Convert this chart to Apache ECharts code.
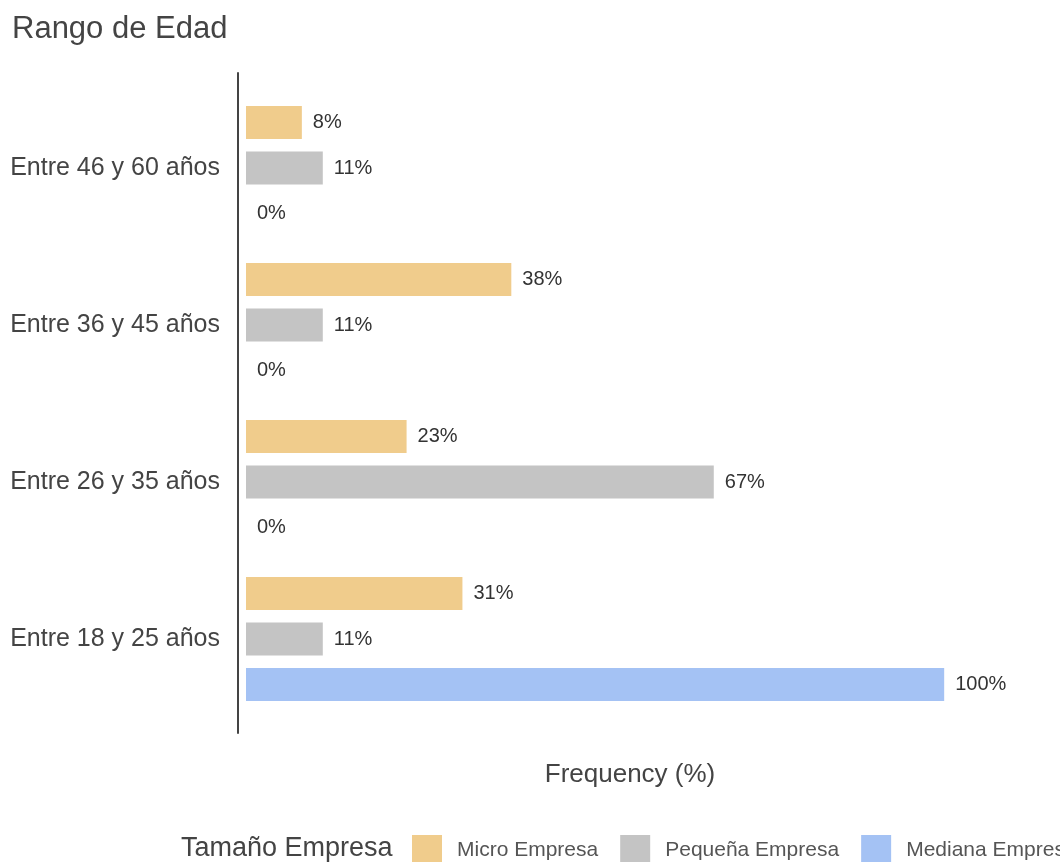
<!DOCTYPE html>
<html>
<head>
<meta charset="utf-8">
<title>Rango de Edad</title>
<script src="https://cdn.jsdelivr.net/npm/echarts@6/dist/echarts.min.js"></script>
<style>
  html, body { margin: 0; padding: 0; background: #ffffff; }
  #chart { width: 1060px; height: 862px; }
</style>
</head>
<body>
<div id="chart"></div>
<script>
// Age ranges, listed from the bottom of the axis to the top
const categories = ['Entre 18 y 25 años', 'Entre 26 y 35 años', 'Entre 36 y 45 años', 'Entre 46 y 60 años'];
const seriesNames = ['Micro Empresa', 'Pequeña Empresa', 'Mediana Empresa'];
// Share of each company size within every age range (%)
const microValues = [31, 23, 38, 8];
const pequenaValues = [11, 67, 11, 11];
const medianaValues = [100, 0, 0, 0];

const colors = ['#F0CC8C', '#C4C4C4', '#A4C2F4'];
const FONT = '"Liberation Sans", Arial, Helvetica, sans-serif';

const chart = echarts.init(document.getElementById('chart'), null, { renderer: 'canvas' });

function barSeries(name, values, color) {
  return {
    name: name,
    type: 'bar',
    xAxisIndex: 0,
    yAxisIndex: 0,
    data: values,
    barWidth: 33,
    barGap: '38%',
    itemStyle: { color: color },
    label: {
      show: true,
      position: 'right',
      distance: 11,
      formatter: '{c}%',
      color: '#333333',
      fontFamily: FONT,
      fontSize: 20,
      padding: [3, 0, 0, 0]
    },
    emphasis: { disabled: true },
    animation: false
  };
}

const option = {
  backgroundColor: '#ffffff',
  textStyle: { fontFamily: FONT },
  title: [
    {
      text: 'Rango de Edad',
      left: 12,
      top: 14,
      padding: 0,
      textStyle: { fontFamily: FONT, fontSize: 31, fontWeight: 'normal', color: '#444444' }
    },
    {
      text: 'Tamaño Empresa',
      left: 181,
      top: 835,
      padding: 0,
      textStyle: { fontFamily: FONT, fontSize: 27, fontWeight: 'normal', color: '#444444' }
    }
  ],
  legend: {
    data: seriesNames,
    orient: 'horizontal',
    left: 412,
    top: 835,
    width: 1000,
    padding: 0,
    itemWidth: 30,
    itemHeight: 30,
    itemGap: 22,
    icon: 'rect',
    selectedMode: false,
    textStyle: {
      fontFamily: FONT,
      fontSize: 21,
      color: '#555555',
      padding: [0, 0, 0, 10]
    }
  },
  grid: [
    // plotting panel for the bars
    { left: 246, right: 46, top: 89.5, bottom: 144.5, containLabel: false },
    // panel that carries the full-height vertical axis line
    { left: 238, width: 10, top: 73, bottom: 129, containLabel: false }
  ],
  xAxis: [
    {
      type: 'value',
      gridIndex: 0,
      min: 0,
      max: 110,
      name: 'Frequency (%)',
      nameLocation: 'middle',
      nameGap: 44,
      nameTextStyle: { fontFamily: FONT, fontSize: 26, color: '#444444' },
      axisLine: { show: false },
      axisTick: { show: false },
      axisLabel: { show: false },
      splitLine: { show: false }
    },
    {
      type: 'value',
      gridIndex: 1,
      show: false
    }
  ],
  yAxis: [
    {
      type: 'category',
      gridIndex: 0,
      data: categories,
      axisLine: { show: false },
      axisTick: { show: false },
      splitLine: { show: false },
      axisLabel: {
        margin: 26,
        fontFamily: FONT,
        fontSize: 25,
        color: '#444444'
      }
    },
    {
      type: 'value',
      gridIndex: 1,
      position: 'left',
      axisLine: { show: true, onZero: false, lineStyle: { color: '#444444', width: 2 } },
      axisTick: { show: false },
      axisLabel: { show: false },
      splitLine: { show: false }
    }
  ],
  series: [
    barSeries(seriesNames[0], microValues, colors[0]),
    barSeries(seriesNames[1], pequenaValues, colors[1]),
    barSeries(seriesNames[2], medianaValues, colors[2])
  ]
};

chart.setOption(option);
</script>
</body>
</html>
